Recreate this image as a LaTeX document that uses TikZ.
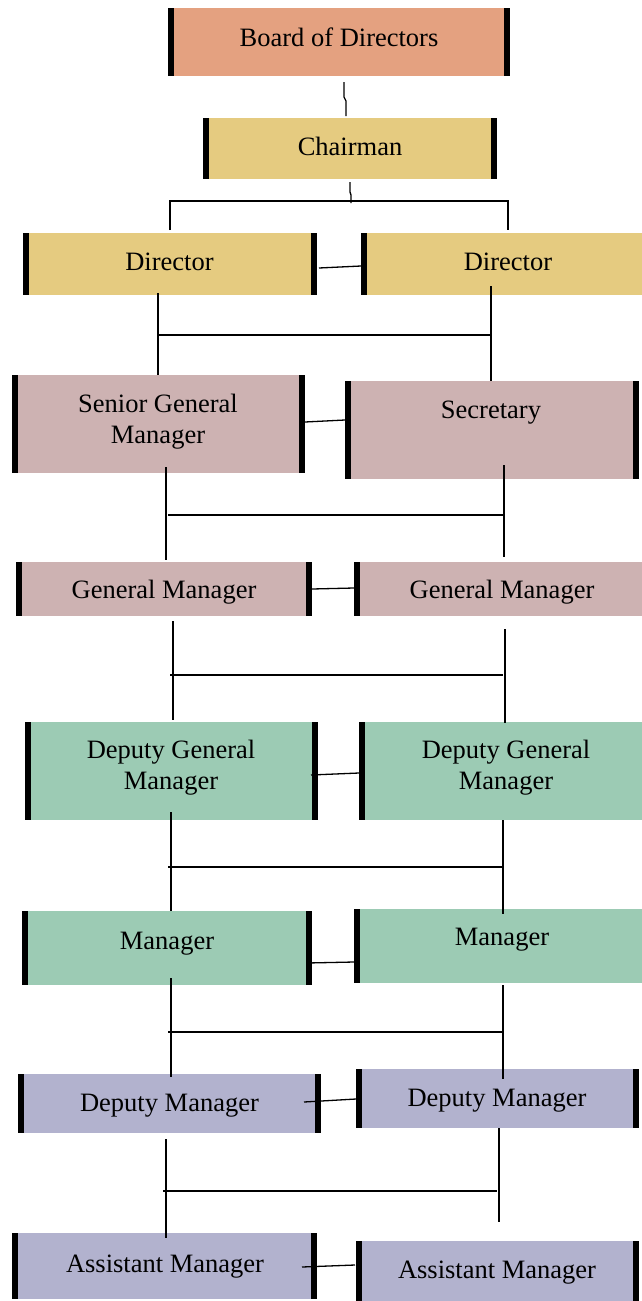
\documentclass[tikz,border=0pt]{standalone}
\usepackage{fontspec}
\setmainfont{Liberation Serif}
\definecolor{cBoard}{HTML}{E4A180}
\definecolor{cGold}{HTML}{E5CB80}
\definecolor{cPink}{HTML}{CDB2B2}
\definecolor{cGreen}{HTML}{9CCBB4}
\definecolor{cLav}{HTML}{B2B2CE}
\tikzset{
  boxbase/.style={rectangle, inner sep=0pt, draw=none, anchor=north west},
  twobars/.style={boxbase, path picture={
      \fill[black] (path picture bounding box.north west) rectangle ([xshift=6pt]path picture bounding box.south west);
      \fill[black] ([xshift=-6pt]path picture bounding box.north east) rectangle (path picture bounding box.south east);}},
  leftbar/.style={boxbase, path picture={
      \fill[black] (path picture bounding box.north west) rectangle ([xshift=6pt]path picture bounding box.south west);}},
  lbl/.style={inner sep=0pt, anchor=base, font=\fontsize{26.5}{31}\selectfont, align=center, text=black},
  conn/.style={draw=black, line width=1.3pt, line cap=butt, line join=miter},
}
\begin{document}
\begin{tikzpicture}[x=1pt, y=-1pt]
\useasboundingbox (0,0) rectangle (642,1301);
\fill[white] (0,0) rectangle (642,1301);

% boxes
\node[twobars, fill=cBoard, minimum width=342pt, minimum height=68pt] (board) at (168,8) {};
\node[twobars, fill=cGold, minimum width=294pt, minimum height=61pt] (chair) at (203,118) {};
\node[twobars, fill=cGold, minimum width=294pt, minimum height=62pt] (dirL) at (23,233) {};
\node[leftbar, fill=cGold, minimum width=281pt, minimum height=62pt] (dirR) at (361,233) {};
\node[twobars, fill=cPink, minimum width=293pt, minimum height=98pt] (sgm) at (12,375) {};
\node[twobars, fill=cPink, minimum width=294pt, minimum height=98pt] (sec) at (345,381) {};
\node[twobars, fill=cPink, minimum width=296pt, minimum height=54pt] (gmL) at (16,562) {};
\node[leftbar, fill=cPink, minimum width=288pt, minimum height=54pt] (gmR) at (354,562) {};
\node[twobars, fill=cGreen, minimum width=293pt, minimum height=98pt] (dgmL) at (25,722) {};
\node[leftbar, fill=cGreen, minimum width=283pt, minimum height=98pt] (dgmR) at (359,722) {};
\node[twobars, fill=cGreen, minimum width=290pt, minimum height=74pt] (mgrL) at (22,911) {};
\node[leftbar, fill=cGreen, minimum width=288pt, minimum height=74pt] (mgrR) at (354,909) {};
\node[twobars, fill=cLav, minimum width=303pt, minimum height=59pt] (dmL) at (18,1074) {};
\node[twobars, fill=cLav, minimum width=283pt, minimum height=59pt] (dmR) at (356,1069) {};
\node[twobars, fill=cLav, minimum width=305pt, minimum height=66pt] (amL) at (12,1233) {};
\node[twobars, fill=cLav, minimum width=283pt, minimum height=62pt] (amR) at (356,1241) {};

% labels
\node[lbl] (tBoard) at (339,46) {Board of Directors};
\node[lbl] (tChair) at (350,155) {Chairman};
\node[lbl] (tDirL) at (169.5,270) {Director};
\node[lbl] (tDirR) at (508,270) {Director};
\node[lbl] (tSgm) at (158,443) {Senior General\\Manager};
\node[lbl] (tSec) at (491,418) {Secretary};
\node[lbl] (tGmL) at (164,598) {General Manager};
\node[lbl] (tGmR) at (502,598) {General Manager};
\node[lbl] (tDgmL) at (171,789) {Deputy General\\Manager};
\node[lbl] (tDgmR) at (506,789) {Deputy General\\Manager};
\node[lbl] (tMgrL) at (167,949) {Manager};
\node[lbl] (tMgrR) at (502,945) {Manager};
\node[lbl] (tDmL) at (169.5,1111) {Deputy Manager};
\node[lbl] (tDmR) at (497,1106) {Deputy Manager};
\node[lbl] (tAmL) at (165,1272) {Assistant Manager};
\node[lbl] (tAmR) at (497,1278) {Assistant Manager};

% connector end points
\coordinate (a1) at (344,82);  \coordinate (a2) at (344,97);
\coordinate (a3) at (346,101); \coordinate (a4) at (346,116);
\coordinate (c1) at (350,182); \coordinate (c2) at (350,192);
\coordinate (c3) at (351,195); \coordinate (c4) at (351,203);
\coordinate (d1) at (170,201); \coordinate (d2) at (508,201);
\coordinate (d3) at (170,230); \coordinate (d4) at (508,230);
\coordinate (e1) at (319,268); \coordinate (e2) at (361,266);
\coordinate (f1) at (158,293); \coordinate (f2) at (158,375);
\coordinate (f3) at (491,286); \coordinate (f4) at (491,381);
\coordinate (f5) at (158,335); \coordinate (f6) at (491,335);
\coordinate (g1) at (305,422); \coordinate (g2) at (345,420);
\coordinate (h1) at (166,467); \coordinate (h2) at (166,560);
\coordinate (h3) at (504,465); \coordinate (h4) at (504,557);
\coordinate (h5) at (168,515); \coordinate (h6) at (503,515);
\coordinate (i1) at (312,589); \coordinate (i2) at (354,588);
\coordinate (j1) at (173,621); \coordinate (j2) at (173,720);
\coordinate (j3) at (505,629); \coordinate (j4) at (505,723);
\coordinate (j5) at (170,675); \coordinate (j6) at (503,675);
\coordinate (k1) at (311,775); \coordinate (k2) at (359,773);
\coordinate (l1) at (171,812); \coordinate (l2) at (171,911);
\coordinate (l3) at (503,820); \coordinate (l4) at (503,914);
\coordinate (l5) at (168,867); \coordinate (l6) at (502,867);
\coordinate (m1) at (307,963); \coordinate (m2) at (354,962);
\coordinate (n1) at (171,978); \coordinate (n2) at (171,1077);
\coordinate (n3) at (503,985); \coordinate (n4) at (503,1079);
\coordinate (n5) at (168,1032); \coordinate (n6) at (502,1032);
\coordinate (o1) at (304,1102); \coordinate (o2) at (356,1099);
\coordinate (p1) at (166,1139); \coordinate (p2) at (166,1238);
\coordinate (p3) at (499,1128); \coordinate (p4) at (499,1222);
\coordinate (p5) at (163,1191); \coordinate (p6) at (497,1191);
\coordinate (q1) at (302,1267); \coordinate (q2) at (355,1265);

% connectors
\draw[conn] (a1) -- (a2) -- (a3) -- (a4);
\draw[conn] (c1) -- (c2) -- (c3) -- (c4);
\draw[conn] (d3) -- (d1) -- (d2) -- (d4);
\draw[conn] (e1) -- (e2);
\draw[conn] (f1) -- (f2);
\draw[conn] (f3) -- (f4);
\draw[conn] (f5) -- (f6);
\draw[conn] (g1) -- (g2);
\draw[conn] (h1) -- (h2);
\draw[conn] (h3) -- (h4);
\draw[conn] (h5) -- (h6);
\draw[conn] (i1) -- (i2);
\draw[conn] (j1) -- (j2);
\draw[conn] (j3) -- (j4);
\draw[conn] (j5) -- (j6);
\draw[conn] (k1) -- (k2);
\draw[conn] (l1) -- (l2);
\draw[conn] (l3) -- (l4);
\draw[conn] (l5) -- (l6);
\draw[conn] (m1) -- (m2);
\draw[conn] (n1) -- (n2);
\draw[conn] (n3) -- (n4);
\draw[conn] (n5) -- (n6);
\draw[conn] (o1) -- (o2);
\draw[conn] (p1) -- (p2);
\draw[conn] (p3) -- (p4);
\draw[conn] (p5) -- (p6);
\draw[conn] (q1) -- (q2);
\end{tikzpicture}
\end{document}
